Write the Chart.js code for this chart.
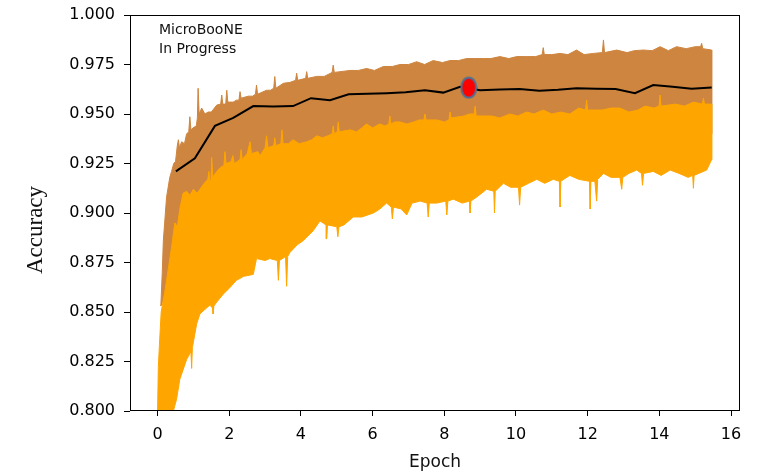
<!DOCTYPE html>
<html>
<head>
<meta charset="utf-8">
<script src="https://cdn.jsdelivr.net/npm/chart.js@4.4.0/dist/chart.umd.min.js"></script>
<style>
html, body { margin: 0; padding: 0; background: #fff; }
</style>
</head>
<body>
<canvas id="mycanvas" width="761" height="472"></canvas>
<script>
// tick labels
var xTicks = [0, 2, 4, 6, 8, 10, 12, 14, 16];
var yTicks = [0.800, 0.825, 0.850, 0.875, 0.900, 0.925, 0.950, 0.975, 1.000];

// validation accuracy (black line)
var valEpoch = [0.51, 1.04, 1.60, 2.11, 2.67, 3.22, 3.78, 4.28, 4.81, 5.33, 5.86, 6.39, 6.92, 7.46, 7.97,
	8.44, 9.00, 9.55, 10.10, 10.65, 11.17, 11.69, 12.24, 12.78, 13.32, 13.83, 14.37, 14.90, 15.46];
var valAcc = [0.921, 0.9276, 0.944, 0.948, 0.954, 0.9538, 0.954, 0.958, 0.957, 0.960, 0.9602, 0.9605, 0.961, 0.962, 0.9608,
	0.9637, 0.962, 0.9624, 0.9626, 0.9617, 0.9622, 0.963, 0.9628, 0.9626, 0.9605, 0.9646, 0.9638, 0.9627, 0.9634];

// best point (red marker)
var bestEpoch = [8.68];
var bestAcc = [0.9633];

// per-iteration training accuracy, orange band edges [epoch, acc]
var trainTop = [[0.00,0.800],[0.02,0.822],[0.05,0.833],[0.10,0.850],[0.20,0.860],[0.30,0.872],[0.40,0.884],[0.48,0.895],
	[0.55,0.893],[0.62,0.902],[0.71,0.910],[0.81,0.911],[0.90,0.909],[1.00,0.912],[1.10,0.910],[1.18,0.912],[1.30,0.915],
	[1.40,0.917],[1.43,0.921],[1.46,0.916],[1.49,0.917],[1.51,0.928],[1.54,0.918],[1.65,0.921],[1.75,0.923],[1.85,0.924],
	[1.88,0.931],[1.91,0.925],[2.05,0.926],[2.10,0.929],[2.14,0.925],[2.30,0.927],[2.33,0.932],[2.36,0.927],[2.50,0.930],
	[2.58,0.936],[2.62,0.930],[2.80,0.931],[2.86,0.929],[3.00,0.933],[3.04,0.939],[3.08,0.933],[3.24,0.934],[3.27,0.938],
	[3.30,0.934],[3.44,0.935],[3.47,0.942],[3.50,0.935],[3.65,0.935],[3.78,0.937],[3.95,0.935],[4.16,0.936],[4.30,0.937],
	[4.44,0.939],[4.60,0.938],[4.75,0.939],[4.87,0.940],[4.90,0.944],[4.93,0.940],[5.01,0.941],[5.04,0.946],[5.07,0.941],
	[5.37,0.942],[5.55,0.941],[5.70,0.943],[5.83,0.945],[6.00,0.943],[6.20,0.945],[6.35,0.944],[6.45,0.945],[6.48,0.949],
	[6.51,0.945],[6.62,0.946],[6.76,0.946],[6.95,0.945],[7.15,0.946],[7.30,0.947],[7.43,0.947],[7.46,0.950],[7.49,0.947],
	[7.80,0.947],[8.00,0.946],[8.13,0.947],[8.16,0.951],[8.19,0.948],[8.55,0.949],[8.70,0.950],[8.83,0.950],[8.86,0.954],
	[8.89,0.949],[9.32,0.949],[9.55,0.948],[9.83,0.950],[10.05,0.949],[10.30,0.951],[10.50,0.950],[10.76,0.952],[11.00,0.950],
	[11.25,0.951],[11.50,0.950],[11.75,0.953],[11.94,0.952],[11.97,0.957],[12.00,0.952],[12.40,0.952],[12.65,0.953],
	[12.90,0.953],[13.15,0.951],[13.40,0.952],[13.60,0.954],[13.85,0.953],[13.99,0.954],[14.02,0.9596],[14.05,0.954],
	[14.45,0.955],[14.70,0.954],[14.95,0.956],[15.20,0.955],[15.23,0.958],[15.26,0.955],[15.46,0.955]];
var trainBottom = [[0.00,0.800],[0.44,0.800],[0.53,0.806],[0.62,0.816],[0.81,0.826],[0.93,0.830],[0.95,0.8215],[0.97,0.832],
	[1.09,0.844],[1.18,0.849],[1.30,0.851],[1.46,0.8535],[1.53,0.852],[1.55,0.849],[1.57,0.853],[1.65,0.855],[1.83,0.859],
	[2.00,0.862],[2.20,0.866],[2.40,0.868],[2.67,0.869],[2.76,0.877],[3.00,0.876],[3.13,0.877],[3.34,0.876],[3.37,0.866],
	[3.40,0.876],[3.57,0.878],[3.60,0.863],[3.63,0.878],[3.69,0.880],[3.90,0.884],[4.06,0.886],[4.34,0.891],[4.53,0.896],
	[4.70,0.894],[4.72,0.887],[4.74,0.894],[5.00,0.893],[5.03,0.888],[5.06,0.893],[5.20,0.894],[5.46,0.898],[5.70,0.898],
	[6.02,0.900],[6.20,0.902],[6.39,0.905],[6.52,0.903],[6.55,0.897],[6.58,0.903],[6.80,0.902],[6.95,0.899],[7.10,0.905],
	[7.33,0.906],[7.52,0.905],[7.55,0.898],[7.58,0.905],[7.79,0.905],[8.04,0.906],[8.07,0.899],[8.10,0.906],[8.25,0.907],
	[8.50,0.905],[8.70,0.906],[8.72,0.900],[8.74,0.906],[8.90,0.908],[9.18,0.912],[9.38,0.911],[9.40,0.900],[9.42,0.911],
	[9.65,0.915],[9.85,0.913],[10.07,0.913],[10.10,0.904],[10.13,0.913],[10.35,0.915],[10.58,0.917],[10.80,0.915],
	[11.04,0.917],[11.21,0.916],[11.23,0.903],[11.25,0.916],[11.50,0.919],[11.75,0.917],[12.05,0.916],[12.07,0.902],
	[12.09,0.916],[12.20,0.916],[12.25,0.906],[12.28,0.917],[12.44,0.920],[12.65,0.918],[12.90,0.918],[12.95,0.912],
	[12.98,0.918],[13.15,0.920],[13.37,0.9217],[13.50,0.920],[13.53,0.914],[13.56,0.920],[13.83,0.921],[14.05,0.919],
	[14.30,0.9217],[14.55,0.920],[14.80,0.918],[14.93,0.919],[14.95,0.9125],[14.97,0.919],[15.10,0.920],[15.32,0.9217],
	[15.46,0.927]];

// second noisy series, brown band edges [epoch, acc]
var testTop = [[0.09,0.853],[0.13,0.870],[0.16,0.886],[0.25,0.908],[0.34,0.918],[0.39,0.921],[0.45,0.925],[0.50,0.926],
	[0.55,0.934],[0.58,0.937],[0.61,0.933],[0.67,0.936],[0.75,0.935],[0.81,0.940],[0.87,0.941],[0.90,0.9486],[0.93,0.942],
	[0.99,0.943],[1.08,0.944],[1.11,0.948],[1.13,0.963],[1.16,0.950],[1.23,0.953],[1.32,0.950],[1.41,0.951],[1.50,0.951],
	[1.65,0.9545],[1.76,0.955],[1.79,0.9596],[1.82,0.955],[1.90,0.955],[1.93,0.962],[1.96,0.956],[2.11,0.956],[2.20,0.957],
	[2.27,0.957],[2.30,0.9613],[2.33,0.958],[2.53,0.959],[2.65,0.959],[2.73,0.960],[2.76,0.9646],[2.79,0.960],[3.04,0.962],
	[3.15,0.962],[3.24,0.963],[3.27,0.9689],[3.30,0.963],[3.51,0.9655],[3.70,0.966],[3.85,0.967],[3.88,0.9706],[3.91,0.967],
	[4.13,0.968],[4.16,0.9714],[4.19,0.968],[4.44,0.969],[4.65,0.969],[4.87,0.971],[4.90,0.9747],[4.93,0.971],[5.37,0.972],
	[5.60,0.972],[5.83,0.973],[6.05,0.972],[6.30,0.974],[6.55,0.974],[6.76,0.975],[7.00,0.975],[7.23,0.9764],[7.45,0.975],
	[7.69,0.977],[7.95,0.976],[8.16,0.977],[8.40,0.977],[8.62,0.978],[8.85,0.978],[9.09,0.978],[9.30,0.978],[9.55,0.979],
	[9.80,0.978],[10.02,0.979],[10.30,0.979],[10.55,0.979],[10.73,0.980],[10.76,0.9835],[10.79,0.980],[11.00,0.980],
	[11.23,0.9806],[11.45,0.980],[11.69,0.9823],[11.90,0.980],[12.16,0.9806],[12.41,0.981],[12.44,0.9874],[12.47,0.981],
	[12.81,0.9823],[13.10,0.981],[13.30,0.982],[13.55,0.9823],[13.80,0.982],[14.02,0.984],[14.25,0.982],[14.48,0.984],
	[14.75,0.983],[15.00,0.984],[15.15,0.984],[15.18,0.9857],[15.21,0.983],[15.46,0.9823]];
var testBottom = [[0.09,0.853],[0.50,0.870],[1.00,0.890],[2.00,0.905],[4.00,0.920],[8.00,0.930],[15.46,0.940]];

var ORANGE = '#FFA500';
var BROWN = '#CD853F';

function band(top, bottom) {
	var pts = top.concat(bottom.slice().reverse());
	return pts.map(function(p) { return {x: p[0], y: p[1]}; });
}

function pairs(xs, ys) {
	var out = [];
	for (var i in xs) {
		out.push({x: xs[i], y: ys[i]});
	}
	return out;
}

// red ellipse with blue-grey edge for the best point
var marker = document.createElement('canvas');
marker.width = 18;
marker.height = 23;
var mctx = marker.getContext('2d');
mctx.beginPath();
mctx.ellipse(9, 11.5, 7.5, 10, 0, 0, Math.PI * 2);
mctx.fillStyle = '#FF0000';
mctx.fill();
mctx.lineWidth = 2;
mctx.strokeStyle = '#4E7096';
mctx.stroke();

var extras = {
	id: 'extras',
	afterDraw: function(chart) {
		var ctx = chart.ctx;
		var a = chart.chartArea;
		ctx.save();
		ctx.strokeStyle = '#000';
		ctx.lineWidth = 1;
		ctx.strokeRect(a.left + 0.5, a.top + 0.5, a.right - a.left - 1, a.bottom - a.top - 1);

		ctx.fillStyle = '#111';
		ctx.font = '14px "DejaVu Sans"';
		ctx.textAlign = 'left';
		ctx.textBaseline = 'alphabetic';
		ctx.fillText('MicroBooNE', 159, 34);
		ctx.fillText('In Progress', 159, 53);

		ctx.font = '17px "DejaVu Sans"';
		ctx.textAlign = 'center';
		ctx.fillText('Epoch', (a.left + a.right) / 2, 467);

		ctx.translate(36, 230);
		ctx.rotate(-Math.PI / 2);
		ctx.font = '23px "Liberation Serif"';
		ctx.textBaseline = 'middle';
		ctx.fillText('Accuracy', 0, 0);
		ctx.restore();
	}
};

// keep tick labels from pushing the plot area around
function noPad(s) {
	s.paddingTop = 0;
	s.paddingBottom = 0;
	s.paddingLeft = 0;
	s.paddingRight = 0;
}

var ctx = document.getElementById('mycanvas');

var chart = new Chart(ctx, {
	type: 'line',
	data: {
		datasets: [
			{
				label: 'best',
				data: pairs(bestEpoch, bestAcc),
				showLine: false,
				pointStyle: marker,
				pointRadius: 10,
				order: 0
			},
			{
				label: 'validation',
				data: pairs(valEpoch, valAcc),
				borderColor: '#000',
				borderWidth: 2,
				pointRadius: 0,
				fill: false,
				order: 1
			},
			{
				label: 'train',
				data: band(trainTop, trainBottom),
				borderColor: ORANGE,
				backgroundColor: ORANGE,
				borderWidth: 1,
				pointRadius: 0,
				fill: 'shape',
				order: 2
			},
			{
				label: 'test',
				data: band(testTop, testBottom),
				borderColor: BROWN,
				backgroundColor: BROWN,
				borderWidth: 1,
				pointRadius: 0,
				fill: 'shape',
				order: 3
			}
		]
	},
	options: {
		responsive: false,
		animation: false,
		devicePixelRatio: 1,
		layout: { padding: { top: 15, right: 21, left: 0, bottom: 0 } },
		plugins: {
			legend: { display: false },
			tooltip: { enabled: false }
		},
		scales: {
			x: {
				type: 'linear',
				min: -0.77,
				max: 16.25,
				afterBuildTicks: function(s) { s.ticks = xTicks.map(function(v) { return {value: v}; }); },
				afterFit: function(s) { s.height = 61; noPad(s); },
				border: { display: false },
				grid: { drawOnChartArea: false, tickLength: 5, tickColor: '#000' },
				ticks: {
					color: '#000',
					font: { family: 'DejaVu Sans', size: 16 },
					padding: 9,
					maxRotation: 0,
					autoSkip: false,
					callback: function(v) { return String(v); }
				}
			},
			y: {
				type: 'linear',
				min: 0.8,
				max: 1.0,
				afterBuildTicks: function(s) { s.ticks = yTicks.map(function(v) { return {value: v}; }); },
				afterFit: function(s) { s.width = 130; noPad(s); },
				border: { display: false },
				grid: { drawOnChartArea: false, tickLength: 6, tickColor: '#000' },
				ticks: {
					color: '#000',
					font: { family: 'DejaVu Sans', size: 16 },
					padding: 9,
					autoSkip: false,
					callback: function(v) { return v.toFixed(3); }
				}
			}
		}
	},
	plugins: [extras]
});
</script>
</body>
</html>
